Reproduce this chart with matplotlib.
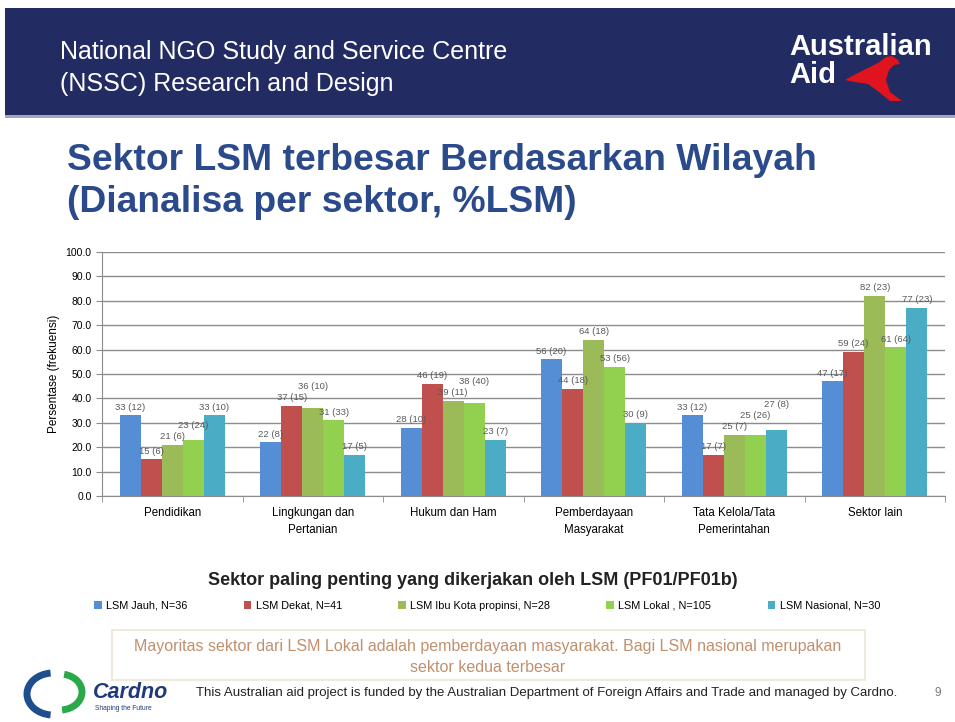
import matplotlib
matplotlib.use("Agg")
import matplotlib.pyplot as plt
import numpy as np
from matplotlib.patches import Rectangle, Arc, Polygon

plt.rcParams['font.family'] = ['Liberation Sans', 'DejaVu Sans']

categories = ["Pendidikan", "Lingkungan dan\nPertanian", "Hukum dan Ham",
              "Pemberdayaan\nMasyarakat", "Tata Kelola/Tata\nPemerintahan", "Sektor lain"]
series_names = ["LSM Jauh, N=36", "LSM Dekat, N=41", "LSM Ibu Kota propinsi, N=28",
                "LSM Lokal , N=105", "LSM Nasional, N=30"]
lsm_jauh = [33, 22, 28, 56, 33, 47]
lsm_dekat = [15, 37, 46, 44, 17, 59]
lsm_ibukota = [21, 36, 39, 64, 25, 82]
lsm_lokal = [23, 31, 38, 53, 25, 61]
lsm_nasional = [33, 17, 23, 30, 27, 77]
counts_jauh = [12, 8, 10, 20, 12, 17]
counts_dekat = [6, 15, 19, 18, 7, 24]
counts_ibukota = [6, 10, 11, 18, 7, 23]
counts_lokal = [24, 33, 40, 56, 26, 64]
counts_nasional = [10, 5, 7, 9, 8, 23]
yticks = [0, 10, 20, 30, 40, 50, 60, 70, 80, 90, 100]

colors = ["#558ED5", "#C0504D", "#9BBB59", "#92D050", "#4BACC6"]

W, H = 955, 722
fig = plt.figure(figsize=(W / 100, H / 100), dpi=100)
fig.patch.set_facecolor("white")


def fx(x):
    return x / W


def fy(y):
    return 1 - y / H


# Header band
fig.patches.append(Rectangle((fx(5), fy(115)), fx(955) - fx(5), fy(8) - fy(115),
                             transform=fig.transFigure, facecolor="#222B62", edgecolor="none", zorder=0))
fig.patches.append(Rectangle((fx(5), fy(118)), fx(955) - fx(5), 3 / H,
                             transform=fig.transFigure, facecolor="#9DA7C8", edgecolor="none", zorder=0))
fig.text(fx(60), fy(52), "National NGO Study and Service Centre", color="white", fontsize=18,
         va="center", ha="left")
fig.text(fx(60), fy(84), "(NSSC) Research and Design", color="white", fontsize=18,
         va="center", ha="left")
fig.text(fx(789), fy(47), "Australian", color="white", fontsize=21, fontweight="bold", va="center", ha="left")
fig.text(fx(789), fy(75), "Aid", color="white", fontsize=21, fontweight="bold", va="center", ha="left")
# simple kangaroo silhouette
kang = [(845, 80), (856, 74), (868, 68), (878, 63), (886, 57), (892, 56), (898, 60), (900, 64),
        (894, 65), (889, 70), (886, 80), (890, 92), (902, 101), (890, 101), (879, 92), (868, 84), (855, 82)]
fig.patches.append(Polygon([(fx(a), fy(b)) for a, b in kang], closed=True, transform=fig.transFigure,
                           facecolor="#E0141E", edgecolor="none"))

# Title
fig.text(fx(67), fy(160), "Sektor LSM terbesar Berdasarkan Wilayah", color="#2B4A8C", fontsize=26.8,
         fontweight="bold", va="center", ha="left")
fig.text(fx(67), fy(203), "(Dianalisa per sektor, %LSM)", color="#2B4A8C", fontsize=26.8,
         fontweight="bold", va="center", ha="left")

# Chart
ax = fig.add_axes([fx(102), fy(496), fx(945) - fx(102), fy(252) - fy(496)])
series = [lsm_jauh, lsm_dekat, lsm_ibukota, lsm_lokal, lsm_nasional]
counts = [counts_jauh, counts_dekat, counts_ibukota, counts_lokal, counts_nasional]
n = len(categories)
x = np.arange(n)
bw = 0.15
for i, vals in enumerate(series):
    pos = x + (i - 2) * bw
    ax.bar(pos, vals, width=bw, color=colors[i], label=series_names[i], zorder=3)

# data labels with simple collision avoidance between neighbouring bars
gap = 4.6
for g in range(n):
    prev_y = None
    for i in range(len(series)):
        v = series[i][g]
        c = counts[i][g]
        y = v + 1.5
        if prev_y is not None and abs(y - prev_y) < gap:
            y = prev_y + gap
        prev_y = y
        ax.text(x[g] + (i - 2) * bw, y, f"{v} ({c})", ha="center", va="bottom", fontsize=6.8,
                color="#595959", zorder=4)

ax.set_xlim(-0.5, n - 0.5)
ax.set_ylim(0, 100)
ax.set_yticks(yticks)
ax.set_yticklabels([f"{t:.1f}" for t in yticks], fontsize=7.5)
ax.yaxis.grid(True, color="#8C8C8C", linewidth=1, zorder=0)
ax.set_axisbelow(True)
ax.set_xticks(x)
ax.set_xticklabels(categories, fontsize=8.3, linespacing=1.55)
ax.set_xticks(np.arange(n + 1) - 0.5, minor=True)
ax.tick_params(axis="x", which="major", length=0, pad=8)
ax.tick_params(axis="x", which="minor", length=4, color="#8C8C8C")
ax.tick_params(axis="y", length=4, color="#8C8C8C")
for s in ["top", "right"]:
    ax.spines[s].set_visible(False)
for s in ["left", "bottom"]:
    ax.spines[s].set_color("#8C8C8C")
ax.set_ylabel("Persentase (frekuensi)", fontsize=8.5, labelpad=4)
ax.set_xlabel("Sektor paling penting yang dikerjakan oleh LSM (PF01/PF01b)", fontsize=13,
              fontweight="bold", color="#222222")
ax.xaxis.set_label_coords((473 - 102) / (945 - 102), -0.31)

fig.legend(loc="center", bbox_to_anchor=(fx(487), fy(606)), ncol=5, fontsize=7.8, frameon=False,
           handlelength=0.7, handleheight=0.7, handletextpad=0.4, columnspacing=5.2)

# Note box
fig.patches.append(Rectangle((fx(112), fy(680)), fx(865) - fx(112), fy(630) - fy(680),
                             transform=fig.transFigure, facecolor="white", edgecolor="#EDE6D6",
                             linewidth=1.2))
fig.text(fx(488), fy(646), "Mayoritas sektor dari LSM Lokal adalah pemberdayaan masyarakat. Bagi LSM nasional merupakan",
         color="#C0906E", fontsize=11.5, ha="center", va="center")
fig.text(fx(488), fy(668), "sektor kedua terbesar", color="#C0906E", fontsize=11.5, ha="center", va="center")

# Footer: Cardno logo
fig.patches.append(Arc((fx(53), fy(694)), 52 / W, 42 / H, theta1=95, theta2=265, transform=fig.transFigure,
                       color="#1F4E8C", linewidth=5))
fig.patches.append(Arc((fx(60), fy(692)), 44 / W, 36 / H, theta1=-85, theta2=80, transform=fig.transFigure,
                       color="#2BA84A", linewidth=5))
fig.text(fx(93), fy(692), "Cardno", color="#1F3A7A", fontsize=15.5, fontweight="bold", fontstyle="italic",
         ha="left", va="center")
fig.text(fx(95), fy(708), "Shaping the Future", color="#1F3A7A", fontsize=4.8, ha="left", va="center")
fig.text(fx(196), fy(693),
         "This Australian aid project is funded by the Australian Department of Foreign Affairs and Trade and managed by Cardno.",
         color="#222222", fontsize=9.5, ha="left", va="center")
fig.text(fx(938), fy(693), "9", color="#777777", fontsize=8.5, ha="center", va="center")

fig.savefig("out.png", dpi=100)
